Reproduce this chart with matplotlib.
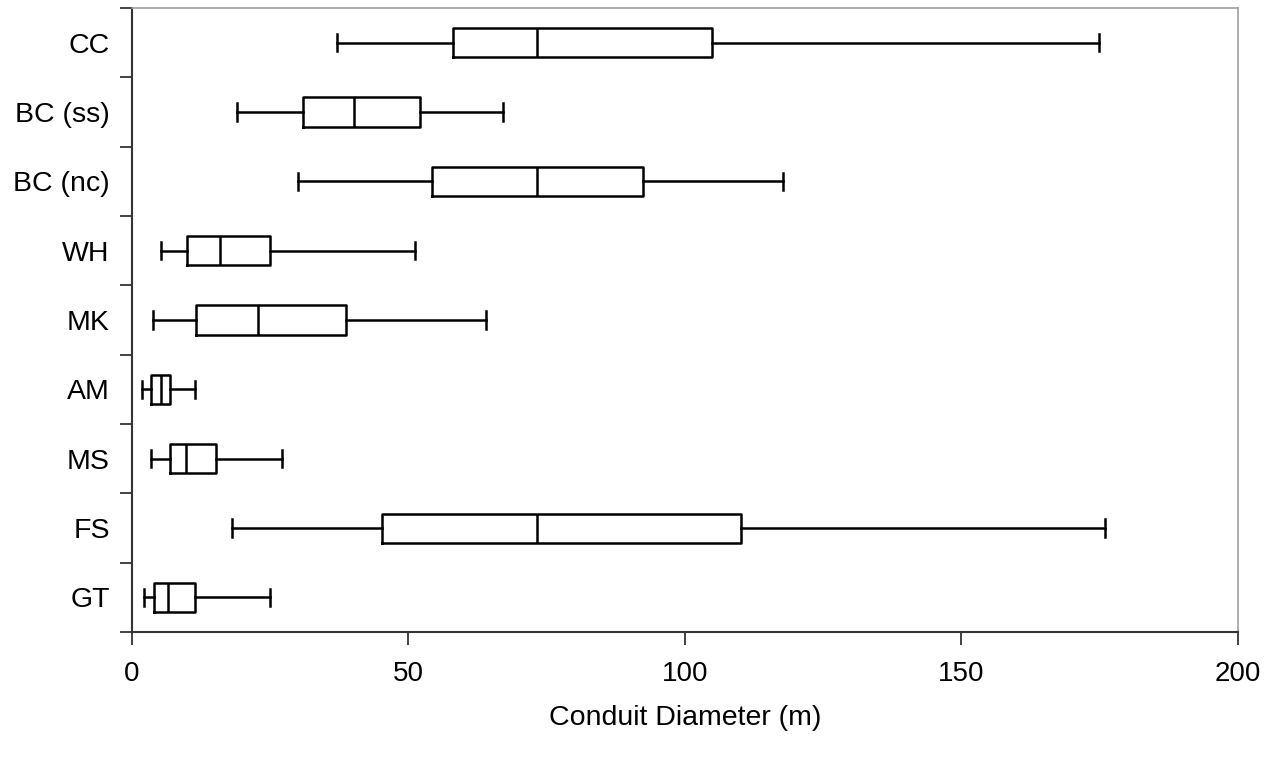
import matplotlib.pyplot as plt
import numpy as np

plt.rcParams['font.family'] = ['Liberation Sans', 'DejaVu Sans']

# categories top -> bottom
cats = ["CC", "BC (ss)", "BC (nc)", "WH", "MK", "AM", "MS", "FS", "GT"]
whisk_lo = [37.0, 18.9, 30.0, 5.2, 3.8, 1.8, 3.4, 18.1, 2.1]
q1 = [58.0, 31.0, 54.2, 9.9, 11.6, 3.4, 6.8, 45.2, 3.9]
med = [73.2, 40.1, 73.2, 15.9, 22.8, 5.2, 9.8, 73.2, 6.5]
q3 = [104.9, 52.1, 92.4, 25.0, 38.7, 6.9, 15.1, 110.1, 11.3]
whisk_hi = [174.9, 67.1, 117.7, 51.2, 64.0, 11.3, 27.1, 175.9, 25.0]

stats = []
for i, c in enumerate(cats):
    stats.append({"label": c, "whislo": whisk_lo[i], "q1": q1[i], "med": med[i],
                  "q3": q3[i], "whishi": whisk_hi[i], "fliers": []})

fig = plt.figure(figsize=(12.67, 7.57), dpi=100)
ax = fig.add_axes([0.1042, 0.165, 0.8728, 0.8245])

n = len(cats)
pos = np.arange(n)[::-1]  # CC at top
lw = 1.8
ax.bxp(stats, positions=pos, vert=False, widths=0.42, showfliers=False,
       boxprops=dict(color="black", linewidth=lw),
       medianprops=dict(color="black", linewidth=lw),
       whiskerprops=dict(color="black", linewidth=lw),
       capprops=dict(color="black", linewidth=lw), capwidths=0.25)

ax.set_xlim(0, 200)
ax.set_ylim(-0.5, n - 0.5)
ax.set_xticks([0, 50, 100, 150, 200])
ax.tick_params(axis="x", labelsize=20, length=9.5, width=1.3, pad=11, color="#333333")

# labels at centres, tick marks at category boundaries
ax.set_yticks(pos)
ax.set_yticklabels(cats)
ax.tick_params(axis="y", which="major", labelsize=20.5, length=0, pad=16)
ax.set_yticks(np.arange(-0.5, n, 1.0), minor=True)
ax.tick_params(axis="y", which="minor", length=9, width=1.3, color="#333333")

ax.set_xlabel("Conduit Diameter (m)", fontsize=20.5, labelpad=13)

for s in ["left", "bottom"]:
    ax.spines[s].set_color("#333333")
    ax.spines[s].set_linewidth(1.5)
for s in ["top", "right"]:
    ax.spines[s].set_color("#a0a0a0")
    ax.spines[s].set_linewidth(1.2)

fig.savefig("out.png", dpi=100)
